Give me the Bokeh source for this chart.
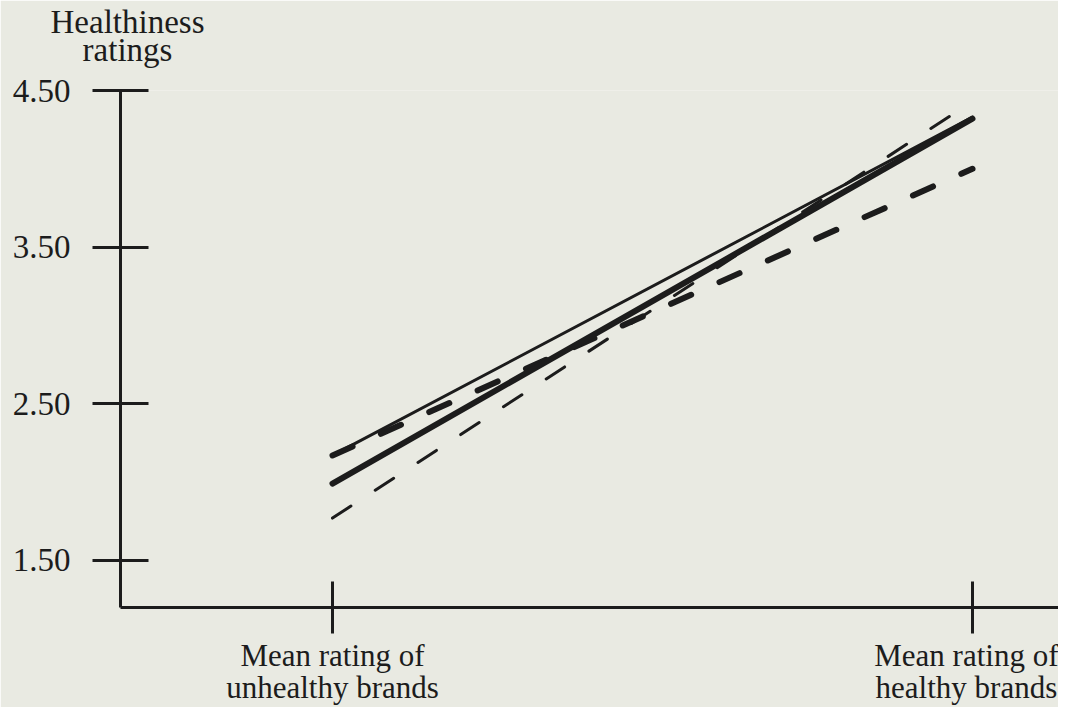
from bokeh.plotting import figure
from bokeh.models import FixedTicker, Range1d, Label, NumeralTickFormatter
from bokeh.embed import file_html
from bokeh.resources import INLINE

# ---- data ----
x_categories = ["Mean rating of\nunhealthy brands", "Mean rating of\nhealthy brands"]
x_pos = [0, 1]
y_ticks = [1.50, 2.50, 3.50, 4.50]
thick_solid = [1.99, 4.32]
thin_solid = [2.17, 4.33]
thick_dashed = [2.17, 4.00]
thin_dashed = [1.77, 4.43]
y_title = "Healthiness\nratings"

BG = "#e9eae2"
INK = "#1c1c1c"
FONT = "Liberation Serif"

W, H = 1058, 707
p = figure(width=W, height=H, output_backend="svg", toolbar_location=None,
           x_range=Range1d(-0.33125, 1.1344), y_range=Range1d(1.199, 4.5),
           min_border_left=120, min_border_right=0, min_border_top=90,
           min_border_bottom=96)
p.background_fill_color = BG
p.border_fill_color = BG
p.outline_line_color = None
p.grid.visible = False

ya = p.yaxis[0]
ya.ticker = FixedTicker(ticks=y_ticks)
ya.formatter = NumeralTickFormatter(format="0.00")
ya.minor_tick_line_color = None
ya.major_tick_out = 28
ya.major_tick_in = 28
ya.major_tick_line_width = 3
ya.major_tick_line_color = INK
ya.axis_line_width = 3
ya.axis_line_color = INK
ya.major_label_standoff = 22
ya.major_label_text_font = FONT
ya.major_label_text_font_size = "33px"
ya.major_label_text_color = INK

xa = p.xaxis[0]
xa.ticker = FixedTicker(ticks=x_pos)
xa.major_label_overrides = {x_pos[i]: x_categories[i] for i in range(2)}
xa.minor_tick_line_color = None
xa.major_tick_out = 26
xa.major_tick_in = 26
xa.major_tick_line_width = 3
xa.major_tick_line_color = INK
xa.axis_line_width = 3
xa.axis_line_color = INK
xa.major_label_standoff = 4
xa.major_label_text_font = FONT
xa.major_label_text_font_size = "31px"
xa.major_label_text_color = INK
xa.major_label_text_line_height = 0.92

p.line(x_pos, thin_dashed, line_width=3, line_color=INK, line_dash="22 29", line_cap="round")
p.line(x_pos, thick_dashed, line_width=6, line_color=INK, line_dash="22 31", line_cap="round")
p.line(x_pos, thin_solid, line_width=3, line_color=INK, line_cap="round")
p.line(x_pos, thick_solid, line_width=6, line_color=INK, line_cap="round")

p.add_layout(Label(x=-0.3203, y=5.055, text=y_title, text_align="center",
                   text_baseline="top", text_font=FONT, text_line_height=0.8,
                   text_font_size="33px", text_color=INK), "above")

open("out.html", "w").write(file_html(p, INLINE))
